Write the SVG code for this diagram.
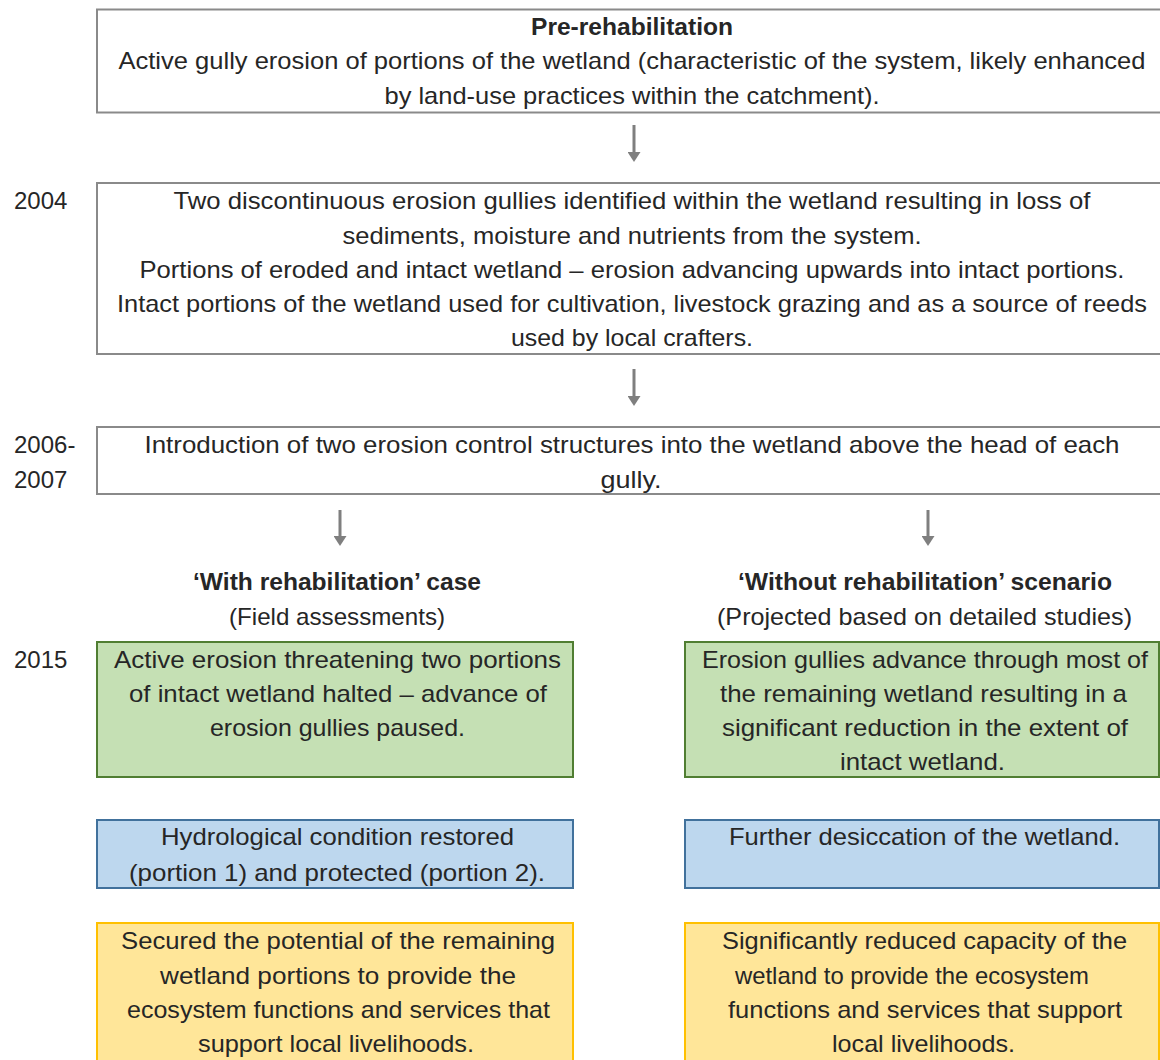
<svg xmlns="http://www.w3.org/2000/svg" width="1160" height="1060" viewBox="0 0 1160 1060">
  <style>
    text { font-family: "Liberation Sans", Arial, sans-serif; font-size: 24px; fill: #262626; }
    .c { text-anchor: middle; }
    .b { font-weight: bold; }
    .plain { fill: #ffffff; stroke: #8a8a8a; stroke-width: 2; }
    .green { fill: #c5e0b4; stroke: #507e32; stroke-width: 2; }
    .blue { fill: #bdd7ee; stroke: #41719c; stroke-width: 2; }
    .yellow { fill: #ffe699; stroke: #ffc000; stroke-width: 2; }
    .arrow { stroke: #7f7f7f; stroke-width: 3; fill: none; }
  </style>
  <defs>
    <marker id="head" viewBox="0 0 10 13" refX="2" refY="6.5" markerWidth="10" markerHeight="13" orient="auto" markerUnits="userSpaceOnUse">
      <path d="M0,0 L10,6.5 L0,13 Z" fill="#7f7f7f"/>
    </marker>
  </defs>
  <rect width="1160" height="1060" fill="#ffffff"/>

  <!-- year labels -->
  <g id="years">
    <text x="14" y="209">2004</text>
    <text x="14" y="453">2006-</text>
    <text x="14" y="488">2007</text>
    <text x="14" y="668">2015</text>
  </g>

  <g id="pre-rehabilitation">
    <rect class="plain" x="97" y="9.5" width="1072" height="103"/>
    <text class="c b" x="632" y="35" textLength="202" lengthAdjust="spacingAndGlyphs">Pre-rehabilitation</text>
    <text class="c" x="632" y="69" textLength="1027" lengthAdjust="spacingAndGlyphs">Active gully erosion of portions of the wetland (characteristic of the system, likely enhanced</text>
    <text class="c" x="632" y="104" textLength="495" lengthAdjust="spacingAndGlyphs">by land-use practices within the catchment).</text>
  </g>

  <g id="state-2004">
    <rect class="plain" x="97" y="183" width="1072" height="171"/>
    <text class="c" x="632" y="209" textLength="917" lengthAdjust="spacingAndGlyphs">Two discontinuous erosion gullies identified within the wetland resulting in loss of</text>
    <text class="c" x="632" y="244" textLength="579" lengthAdjust="spacingAndGlyphs">sediments, moisture and nutrients from the system.</text>
    <text class="c" x="632" y="278" textLength="985" lengthAdjust="spacingAndGlyphs">Portions of eroded and intact wetland – erosion advancing upwards into intact portions.</text>
    <text class="c" x="632" y="312" textLength="1030" lengthAdjust="spacingAndGlyphs">Intact portions of the wetland used for cultivation, livestock grazing and as a source of reeds</text>
    <text class="c" x="632" y="346" textLength="242" lengthAdjust="spacingAndGlyphs">used by local crafters.</text>
  </g>

  <g id="intervention-2006-2007">
    <rect class="plain" x="97" y="427" width="1072" height="67"/>
    <text class="c" x="632" y="453" textLength="975" lengthAdjust="spacingAndGlyphs">Introduction of two erosion control structures into the wetland above the head of each</text>
    <text class="c" x="631" y="488" textLength="61" lengthAdjust="spacingAndGlyphs">gully.</text>
  </g>

  <g id="with-heading">
    <text class="c b" x="337" y="590" textLength="288" lengthAdjust="spacingAndGlyphs">‘With rehabilitation’ case</text>
    <text class="c" x="337" y="625" textLength="216" lengthAdjust="spacingAndGlyphs">(Field assessments)</text>
  </g>
  <g id="without-heading">
    <text class="c b" x="925" y="590" textLength="374" lengthAdjust="spacingAndGlyphs">‘Without rehabilitation’ scenario</text>
    <text class="c" x="924.5" y="625" textLength="415" lengthAdjust="spacingAndGlyphs">(Projected based on detailed studies)</text>
  </g>

  <g id="with-erosion">
    <rect class="green" x="97" y="642" width="476" height="135"/>
    <text class="c" x="337.5" y="668" textLength="447" lengthAdjust="spacingAndGlyphs">Active erosion threatening two portions</text>
    <text class="c" x="338" y="702" textLength="418" lengthAdjust="spacingAndGlyphs">of intact wetland halted – advance of</text>
    <text class="c" x="337.5" y="736" textLength="255" lengthAdjust="spacingAndGlyphs">erosion gullies paused.</text>
  </g>
  <g id="without-erosion">
    <rect class="green" x="685" y="642" width="474" height="135"/>
    <text class="c" x="925" y="668" textLength="446" lengthAdjust="spacingAndGlyphs">Erosion gullies advance through most of</text>
    <text class="c" x="923.5" y="702" textLength="407" lengthAdjust="spacingAndGlyphs">the remaining wetland resulting in a</text>
    <text class="c" x="925" y="736" textLength="406" lengthAdjust="spacingAndGlyphs">significant reduction in the extent of</text>
    <text class="c" x="922.5" y="770" textLength="165" lengthAdjust="spacingAndGlyphs">intact wetland.</text>
  </g>

  <g id="with-hydrology">
    <rect class="blue" x="97" y="820" width="476" height="68"/>
    <text class="c" x="337.5" y="845" textLength="353" lengthAdjust="spacingAndGlyphs">Hydrological condition restored</text>
    <text class="c" x="337" y="881" textLength="416" lengthAdjust="spacingAndGlyphs">(portion 1) and protected (portion 2).</text>
  </g>
  <g id="without-hydrology">
    <rect class="blue" x="685" y="820" width="474" height="68"/>
    <text class="c" x="924.5" y="845" textLength="391" lengthAdjust="spacingAndGlyphs">Further desiccation of the wetland.</text>
  </g>

  <g id="with-services">
    <rect class="yellow" x="97" y="923" width="476" height="150"/>
    <text class="c" x="338" y="949" textLength="434" lengthAdjust="spacingAndGlyphs">Secured the potential of the remaining</text>
    <text class="c" x="338" y="984" textLength="356" lengthAdjust="spacingAndGlyphs">wetland portions to provide the</text>
    <text class="c" x="338.5" y="1018" textLength="423" lengthAdjust="spacingAndGlyphs">ecosystem functions and services that</text>
    <text class="c" x="336" y="1052" textLength="276" lengthAdjust="spacingAndGlyphs">support local livelihoods.</text>
  </g>
  <g id="without-services">
    <rect class="yellow" x="685" y="923" width="474" height="150"/>
    <text class="c" x="924.5" y="949" textLength="405" lengthAdjust="spacingAndGlyphs">Significantly reduced capacity of the</text>
    <text class="c" x="912" y="984" textLength="354" lengthAdjust="spacingAndGlyphs">wetland to provide the ecosystem</text>
    <text class="c" x="925" y="1018" textLength="394" lengthAdjust="spacingAndGlyphs">functions and services that support</text>
    <text class="c" x="923.5" y="1052" textLength="183" lengthAdjust="spacingAndGlyphs">local livelihoods.</text>
  </g>

  <g id="connectors">
    <line class="arrow" x1="634" y1="125" x2="634" y2="154" marker-end="url(#head)"/>
    <line class="arrow" x1="634" y1="369" x2="634" y2="398" marker-end="url(#head)"/>
    <line class="arrow" x1="340" y1="510" x2="340" y2="538" marker-end="url(#head)"/>
    <line class="arrow" x1="928" y1="510" x2="928" y2="538" marker-end="url(#head)"/>
  </g>
</svg>
